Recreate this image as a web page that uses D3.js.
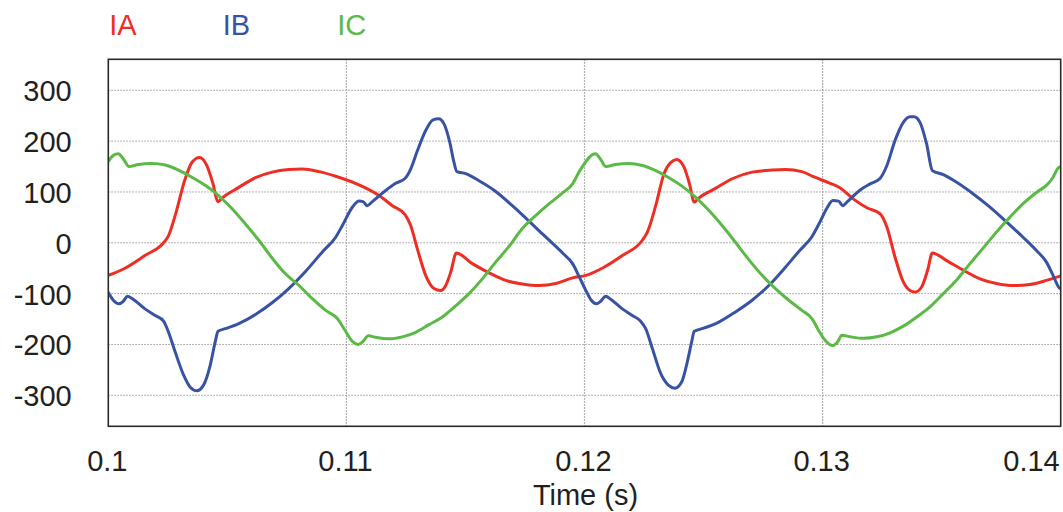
<!DOCTYPE html>
<html>
<head>
<meta charset="utf-8">
<script src="https://cdn.jsdelivr.net/npm/d3@7"></script>
<style>
  html, body { margin: 0; padding: 0; background: #ffffff; }
  svg { display: block; }
  text { font-family: "Liberation Sans", Arial, Helvetica, sans-serif; }
</style>
</head>
<body>
<svg id="chart" width="1063" height="512"></svg>
<script>
// Three-phase current waveforms (A) over 0.10 s – 0.14 s
const seriesNames = ["IA", "IB", "IC"];
const seriesColors = ["#ee2e24", "#3953a4", "#5bb946"];

const iaTime = [0.10000, 0.10070, 0.10154, 0.10232, 0.10253, 0.10281, 0.10323, 0.10351, 0.10383, 0.10414,
  0.10438, 0.10461, 0.10478, 0.10548, 0.10618, 0.10688, 0.10758, 0.10815, 0.10885, 0.10955,
  0.11067, 0.11137, 0.11193, 0.11247, 0.11270, 0.11298, 0.11333, 0.11368, 0.11396, 0.11417,
  0.11438, 0.11462, 0.11529, 0.11599, 0.11669, 0.11739, 0.11810, 0.11880, 0.11950, 0.12006,
  0.12082, 0.12159, 0.12243, 0.12264, 0.12299, 0.12334, 0.12362, 0.12387, 0.12418, 0.12441,
  0.12461, 0.12480, 0.12550, 0.12620, 0.12704, 0.12788, 0.12844, 0.12913, 0.12962, 0.13032,
  0.13074, 0.13130, 0.13186, 0.13242, 0.13270, 0.13304, 0.13339, 0.13367, 0.13388, 0.13416,
  0.13441, 0.13461, 0.13521, 0.13591, 0.13661, 0.13730, 0.13800, 0.13870, 0.13940, 0.14000];
const iaValue = [-64, -50, -25, 0, 14, 54, 126, 158, 168, 152,
  119, 81, 88, 109, 128, 139, 144, 145, 140, 131,
  111, 93, 73, 55, 34, -12, -64, -90, -94, -84,
  -58, -20, -41, -59, -74, -81, -84, -80, -69, -64,
  -48, -25, 5, 21, 73, 136, 158, 164, 149, 116,
  80, 88, 107, 126, 139, 143, 144, 140, 130, 117,
  108, 86, 69, 57, 31, -28, -77, -94, -97, -87,
  -54, -20, -35, -54, -71, -80, -84, -82, -74, -65];

const ibTime = [0.10000, 0.10021, 0.10045, 0.10063, 0.10081, 0.10098, 0.10154, 0.10197, 0.10232, 0.10253,
  0.10281, 0.10317, 0.10344, 0.10372, 0.10400, 0.10428, 0.10449, 0.10461, 0.10492, 0.10548,
  0.10618, 0.10688, 0.10758, 0.10829, 0.10899, 0.10955, 0.10983, 0.11025, 0.11053, 0.11070,
  0.11087, 0.11109, 0.11165, 0.11207, 0.11247, 0.11270, 0.11298, 0.11333, 0.11364, 0.11387,
  0.11410, 0.11434, 0.11452, 0.11464, 0.11501, 0.11557, 0.11627, 0.11697, 0.11768, 0.11838,
  0.11908, 0.11950, 0.11978, 0.12006, 0.12027, 0.12050, 0.12068, 0.12089, 0.12110, 0.12159,
  0.12201, 0.12235, 0.12257, 0.12285, 0.12320, 0.12352, 0.12380, 0.12408, 0.12432, 0.12450,
  0.12461, 0.12494, 0.12564, 0.12634, 0.12704, 0.12774, 0.12844, 0.12902, 0.12955, 0.12990,
  0.13018, 0.13043, 0.13067, 0.13085, 0.13102, 0.13158, 0.13200, 0.13242, 0.13270, 0.13304,
  0.13339, 0.13367, 0.13384, 0.13409, 0.13437, 0.13461, 0.13507, 0.13563, 0.13633, 0.13703,
  0.13772, 0.13842, 0.13898, 0.13940, 0.13968, 0.13993, 0.14000];
const ibValue = [-98, -113, -120, -115, -105, -109, -130, -143, -154, -176,
  -215, -261, -284, -291, -280, -241, -195, -174, -169, -159,
  -141, -118, -90, -56, -18, 11, 34, 70, 82, 81,
  73, 81, 103, 117, 127, 145, 181, 221, 242, 244,
  234, 198, 158, 140, 136, 122, 101, 73, 42, 11,
  -20, -41, -67, -94, -112, -120, -115, -105, -111, -130,
  -143, -154, -169, -208, -257, -280, -286, -274, -234, -195,
  -174, -169, -156, -136, -113, -84, -48, -16, 12, 42,
  68, 83, 82, 73, 80, 104, 116, 127, 152, 201,
  237, 248, 248, 237, 194, 142, 134, 119, 96, 70,
  41, 11, -15, -38, -64, -88, -90];

const icTime = [0.10000, 0.10021, 0.10042, 0.10063, 0.10087, 0.10126, 0.10183, 0.10239, 0.10295, 0.10351,
  0.10407, 0.10463, 0.10520, 0.10576, 0.10632, 0.10688, 0.10744, 0.10801, 0.10857, 0.10913,
  0.10962, 0.10990, 0.11025, 0.11050, 0.11070, 0.11092, 0.11123, 0.11179, 0.11235, 0.11291,
  0.11347, 0.11403, 0.11459, 0.11515, 0.11571, 0.11627, 0.11683, 0.11739, 0.11796, 0.11852,
  0.11908, 0.11950, 0.11978, 0.12006, 0.12020, 0.12045, 0.12068, 0.12089, 0.12131, 0.12187,
  0.12243, 0.12299, 0.12355, 0.12411, 0.12466, 0.12522, 0.12578, 0.12634, 0.12690, 0.12746,
  0.12802, 0.12858, 0.12913, 0.12955, 0.12983, 0.13011, 0.13043, 0.13063, 0.13081, 0.13116,
  0.13172, 0.13228, 0.13284, 0.13339, 0.13395, 0.13451, 0.13507, 0.13563, 0.13619, 0.13675,
  0.13730, 0.13786, 0.13842, 0.13898, 0.13947, 0.13968, 0.13989, 0.14000];
const icValue = [160, 172, 175, 165, 150, 154, 156, 153, 143, 129,
  113, 93, 67, 37, 5, -30, -61, -84, -110, -133,
  -149, -169, -194, -200, -194, -183, -186, -189, -185, -176,
  -161, -146, -124, -100, -71, -38, -7, 28, 54, 77,
  98, 116, 140, 160, 168, 175, 164, 150, 154, 156,
  152, 142, 128, 111, 90, 64, 34, 1, -33, -64,
  -90, -113, -133, -149, -172, -192, -202, -195, -182, -185,
  -188, -185, -177, -164, -146, -126, -100, -73, -41, -10,
  21, 50, 77, 99, 116, 129, 147, 150];

const xTicks = [0.10, 0.11, 0.12, 0.13, 0.14];
const xTickLabels = ["0.1", "0.11", "0.12", "0.13", "0.14"];
const yTicks = [-300, -200, -100, 0, 100, 200, 300];
const xTitle = "Time (s)";

const plot = { left: 108.3, right: 1060.7, top: 59.3, bottom: 426.3 };
const svg = d3.select("#chart");

const x = d3.scaleLinear().domain([0.10, 0.14]).range([plot.left, plot.right]);
const y = d3.scaleLinear().domain([-361, 361]).range([plot.bottom, plot.top]);

// dotted grid
const grid = svg.append("g").attr("class", "grid");
grid.selectAll("line.h").data(yTicks).join("line")
  .attr("class", "h")
  .attr("x1", plot.left).attr("x2", plot.right)
  .attr("y1", d => y(d)).attr("y2", d => y(d))
  .attr("stroke", "#9a9a9a").attr("stroke-width", 1)
  .attr("stroke-dasharray", "1.5,1.5");
grid.selectAll("line.v").data(xTicks.slice(1, -1)).join("line")
  .attr("class", "v")
  .attr("x1", d => x(d)).attr("x2", d => x(d))
  .attr("y1", plot.top).attr("y2", plot.bottom)
  .attr("stroke", "#9a9a9a").attr("stroke-width", 1.2)
  .attr("stroke-dasharray", "1.5,1.5");

// current traces
const seriesData = [
  d3.zip(iaTime, iaValue),
  d3.zip(ibTime, ibValue),
  d3.zip(icTime, icValue)
];
const line = d3.line()
  .x(d => x(d[0]))
  .y(d => y(d[1]))
  .curve(d3.curveMonotoneX);

svg.append("defs").append("clipPath").attr("id", "plotClip")
  .append("rect")
  .attr("x", plot.left).attr("y", plot.top)
  .attr("width", plot.right - plot.left).attr("height", plot.bottom - plot.top);

svg.append("g").attr("clip-path", "url(#plotClip)")
  .selectAll("path").data(seriesData).join("path")
  .attr("d", line)
  .attr("fill", "none")
  .attr("stroke", (d, i) => seriesColors[i])
  .attr("stroke-width", 3)
  .attr("stroke-linejoin", "round")
  .attr("stroke-linecap", "round");

// frame
svg.append("rect")
  .attr("x", plot.left).attr("y", plot.top)
  .attr("width", plot.right - plot.left).attr("height", plot.bottom - plot.top)
  .attr("fill", "none").attr("stroke", "#2a2a2a").attr("stroke-width", 1.6);

// y axis labels
const yAxis = d3.axisLeft(y).tickValues(yTicks).tickSize(0).tickPadding(0)
  .tickFormat(d => String(d));
const gy = svg.append("g").attr("transform", `translate(${plot.left},0)`).call(yAxis);
gy.select(".domain").remove();
gy.selectAll("text")
  .attr("x", 71.7 - plot.left)
  .attr("dy", "0.36em")
  .attr("fill", "#231f20")
  .style("font-size", "29px")
  .style("font-family", "'Liberation Sans', Arial, sans-serif");

// x axis labels
const xAxis = d3.axisBottom(x).tickValues(xTicks).tickSize(0)
  .tickFormat((d, i) => xTickLabels[i]);
const gx = svg.append("g").attr("transform", `translate(0,${plot.bottom})`).call(xAxis);
gx.select(".domain").remove();
gx.selectAll("text")
  .attr("y", 44.4).attr("dy", 0)
  .attr("fill", "#231f20")
  .style("font-size", "29px")
  .style("font-family", "'Liberation Sans', Arial, sans-serif")
  .attr("text-anchor", (d, i) => i === xTicks.length - 1 ? "end" : "middle")
  .attr("x", (d, i) => i === xTicks.length - 1 ? -1.5 : -1.5);

svg.append("text")
  .attr("x", 585.5).attr("y", 505)
  .attr("text-anchor", "middle")
  .attr("fill", "#231f20")
  .style("font-size", "29px")
  .text(xTitle);

// legend
const legendX = [109.3, 222.7, 337.3];
svg.append("g").selectAll("text").data(seriesNames).join("text")
  .attr("x", (d, i) => legendX[i])
  .attr("y", 35)
  .attr("fill", (d, i) => seriesColors[i])
  .style("font-size", "29px")
  .text(d => d);
</script>
</body>
</html>
